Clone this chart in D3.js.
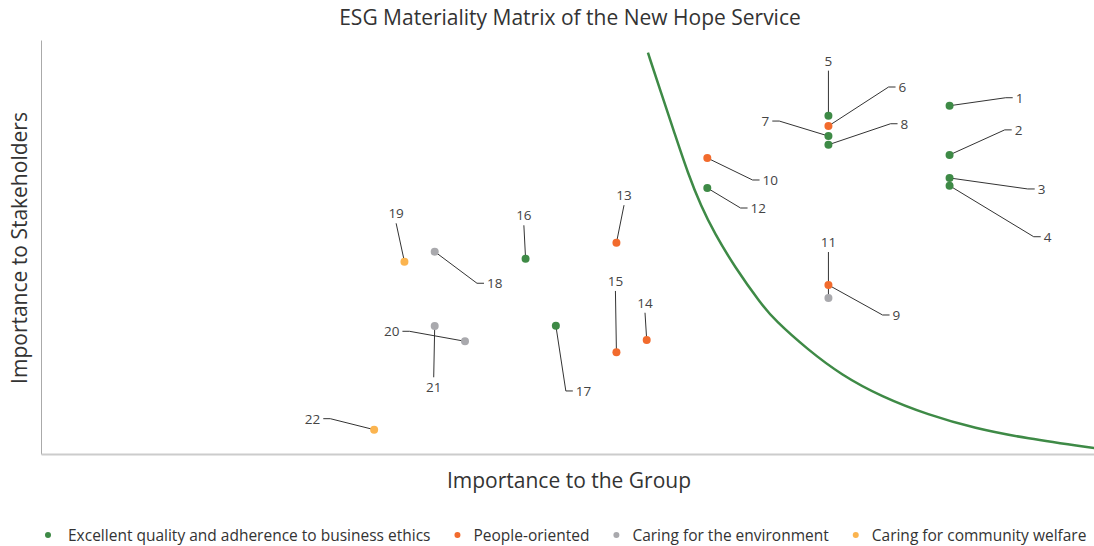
<!DOCTYPE html>
<html>
<head>
<meta charset="utf-8">
<script src="https://cdn.jsdelivr.net/npm/d3@7/dist/d3.min.js"></script>
<style>
  html, body { margin: 0; padding: 0; background: #fff; overflow: hidden; }
  svg { display: block; font-family: "Open Sans", "Noto Sans", sans-serif; }
</style>
</head>
<body>
<svg id="chart" width="1094" height="546"></svg>
<script>
// ---- Data ----
const titleText = "ESG Materiality Matrix of the New Hope Service";
const xAxisName = "Importance to the Group";
const yAxisName = "Importance to Stakeholders";

const seriesNames = [
  "Excellent quality and adherence to business ethics",
  "People-oriented",
  "Caring for the environment",
  "Caring for community welfare"
];

const issueIds = ["1","2","3","4","5","6","7","8","9","10","11","12","13","14","15","16","17","18","19","20","21","22"];
// series index per issue (0 quality/ethics, 1 people, 2 environment, 3 community)
const issueSeries = [0,0,0,0,0,1,0,0,1,1,2,0,1,1,1,0,0,2,3,2,2,3];
// importance to the group
const groupScore = [30,30,30,30,26,26,26,26,26,22,26,22,19,20,19,16,17,13,12,14,13,11];
// importance to stakeholders
const stakeholderScore = [33.65,28.9,26.67,25.92,32.69,31.69,30.72,29.88,16.33,28.6,15.07,25.7,20.4,11.01,9.83,18.87,12.4,19.55,18.58,10.89,12.37,2.35];

// materiality threshold curve
const curveX = [20.04,20.48,20.92,21.36,21.80,22.24,22.90,23.76,24.22,25.33,26.43,27.75,29.30,30.84,32.50,34.83,35.0];
const curveY = [38.77,34.85,30.99,27.12,23.89,21.32,18.10,14.56,12.95,10.05,7.63,5.54,3.77,2.48,1.52,0.55,0.48];

// ---- Layout / style ----
const colors = ["#3e8a46", "#f26b2d", "#a9a9ad", "#fbb44f"];
const chartW = 1140; // designed width (wider than viewport, right part cut)
const grid = { left: 41, right: 1101, top: 40, bottom: 454 };
// label text-centre offsets from each point (px)
const labelOffsets = [
  [70,-8],[69,-25],[92,11],[98,51],[0,-55],[74,-39],[-63,-15],[76,-21],[68,30],[63,22],[0,-56],
  [51,20],[7.6,-47.7],[-1.7,-37.3],[-1,-71.3],[-1.7,-43.4],[27.7,65.3],[60,31.6],[-8.3,-48.4],[-73.3,-10],[-1,61.3],[-61.6,-11]
];

const svg = d3.select("#chart");

const x = d3.scaleLinear().domain([0, 35]).range([grid.left, grid.right]);
const y = d3.scaleLinear().domain([0, 40]).range([grid.bottom, grid.top]);

// Title
svg.append("text")
  .attr("x", chartW / 2).attr("y", 25)
  .attr("text-anchor", "middle")
  .attr("font-size", 21).attr("fill", "#333")
  .text(titleText);

// Axes (lines only, no ticks/labels)
const yAxis = d3.axisLeft(y).tickValues([]).tickSizeOuter(0);
svg.append("g").attr("transform", `translate(${grid.left},0)`).call(yAxis)
  .select(".domain").attr("stroke", "#aaa").attr("stroke-width", 1);
const xAxis = d3.axisBottom(x).tickValues([]).tickSizeOuter(0);
svg.append("g").attr("transform", `translate(0,${grid.bottom})`).call(xAxis)
  .select(".domain").attr("stroke", "#ccc").attr("stroke-width", 2);

// Axis names
svg.append("text")
  .attr("x", 569).attr("y", 488)
  .attr("text-anchor", "middle").attr("font-size", 21).attr("fill", "#333")
  .text(xAxisName);
svg.append("text")
  .attr("transform", `translate(27,248) rotate(-90)`)
  .attr("text-anchor", "middle").attr("font-size", 21).attr("fill", "#333")
  .text(yAxisName);

// Curve
const curveData = curveX.map((v, i) => [v, curveY[i]]);
svg.append("path")
  .datum(curveData)
  .attr("fill", "none")
  .attr("stroke", colors[0])
  .attr("stroke-width", 2.5)
  .attr("d", d3.line().x(d => x(d[0])).y(d => y(d[1])).curve(d3.curveBasis));

// Points data
const pts = issueIds.map((id, i) => ({
  id, s: issueSeries[i], gx: groupScore[i], sy: stakeholderScore[i],
  off: labelOffsets[i]
}));

// Labels + label lines
const labelG = svg.append("g");
pts.forEach(p => {
  const px = x(p.gx), py = y(p.sy);
  const lx = px + p.off[0], ly = py + p.off[1];
  const t = labelG.append("text")
    .attr("x", lx).attr("y", ly)
    .attr("text-anchor", "middle").attr("dominant-baseline", "central")
    .attr("font-size", 13.5).attr("fill", "#444")
    .text(p.id);
  const w = t.node().getComputedTextLength() / 2;
  let dPath;
  if (Math.abs(p.off[0]) < 12) {
    const endY = ly + (p.off[1] < 0 ? 10 : -10);
    dPath = `M${px},${py}L${lx},${endY}`;
  } else {
    const sgn = p.off[0] > 0 ? 1 : -1;
    const endX = lx - sgn * (w + 3);
    const elbowX = endX - sgn * 7;
    dPath = `M${px},${py}L${elbowX},${ly}L${endX},${ly}`;
  }
  labelG.insert("path", "text")
    .attr("d", dPath).attr("fill", "none")
    .attr("stroke", "#333").attr("stroke-width", 1);
});

// Points
svg.append("g").selectAll("circle").data(pts).join("circle")
  .attr("cx", d => x(d.gx)).attr("cy", d => y(d.sy))
  .attr("r", 4)
  .attr("fill", d => colors[d.s]);

// Legend
const leg = svg.append("g");
let cx = 48;
seriesNames.forEach((name, i) => {
  leg.append("circle").attr("cx", cx).attr("cy", 535).attr("r", 3).attr("fill", colors[i]);
  const t = leg.append("text")
    .attr("x", cx + (i === 0 ? 20 : 16)).attr("y", 535)
    .attr("dominant-baseline", "central")
    .attr("font-size", 15.5).attr("fill", "#333")
    .text(name);
  cx = cx + (i === 0 ? 20 : 16) + t.node().getComputedTextLength() + 27;
});
</script>
</body>
</html>
